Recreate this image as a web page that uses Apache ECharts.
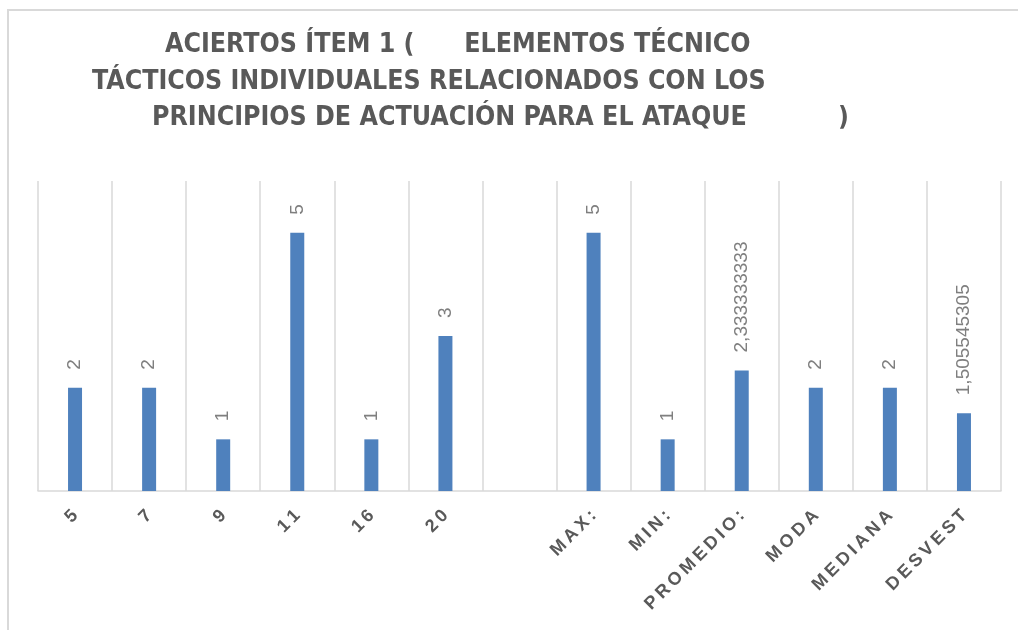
<!DOCTYPE html>
<html>
<head>
<meta charset="utf-8">
<title>Aciertos ítem 1</title>
<script src="https://cdn.jsdelivr.net/npm/echarts@6/dist/echarts.min.js"></script>
<style>
  html, body { margin: 0; padding: 0; background: #fff; }
  #chart_aciertos { width: 1018px; height: 630px; }
</style>
</head>
<body>
<div id="chart_aciertos"></div>
<script>
// categorías del eje x (la vacía separa los datos de los estadísticos)
const categorias = ['5', '7', '9', '11', '16', '20', '', 'MAX:', 'MIN:', 'PROMEDIO:', 'MODA', 'MEDIANA', 'DESVEST']
const aciertos = [2, 2, 1, 5, 1, 3, '-', 5, 1, 2.333333333, 2, 2, 1.505545305]
const tituloLineas = [
  'ACIERTOS ÍTEM 1 (      ELEMENTOS TÉCNICO',
  'TÁCTICOS INDIVIDUALES RELACIONADOS CON LOS',
  'PRINCIPIOS DE ACTUACIÓN PARA EL ATAQUE           )'
]

const myChart = echarts.init(document.getElementById('chart_aciertos'))

const tituloFuente = "'DejaVu Sans Condensed', 'Liberation Sans', sans-serif"
const tituloPos = [[165, 32], [92, 69], [152, 105]]

const option = {
  backgroundColor: '#fff',
  title: tituloLineas.map((t, i) => ({
    text: t,
    left: tituloPos[i][0],
    top: tituloPos[i][1],
    padding: 0,
    textStyle: {
      fontFamily: tituloFuente,
      fontSize: 26.5,
      fontWeight: 'bold',
      color: '#595959'
    }
  })),
  // marco del gráfico
  graphic: [
    {
      type: 'polyline',
      shape: { points: [[8, 630], [8, 10], [1018, 10]] },
      style: { stroke: '#d9d9d9', lineWidth: 2, fill: null },
      silent: true
    }
  ],
  grid: {
    left: 38,
    right: 17,
    top: 181,
    bottom: 139
  },
  xAxis: {
    type: 'category',
    data: categorias,
    axisLine: { lineStyle: { color: '#d9d9d9', width: 1.5 } },
    axisTick: { show: false },
    splitLine: { show: true, lineStyle: { color: '#d9d9d9', width: 1.5 } },
    axisLabel: {
      interval: 0,
      rotate: 45,
      margin: 22,
      fontFamily: "'Liberation Sans', Arial, sans-serif",
      fontSize: 18,
      fontWeight: 'bold',
      color: '#595959',
      // espaciado entre letras como en el original
      formatter: v => v.split('').join('\u2009')
    }
  },
  yAxis: {
    type: 'value',
    min: 0,
    max: 6,
    interval: 1,
    show: false,
    splitLine: { show: false }
  },
  series: [
    {
      type: 'bar',
      data: aciertos,
      barWidth: 14,
      itemStyle: { color: '#4f81bd' },
      label: {
        show: true,
        position: 'top',
        distance: 15,
        rotate: 90,
        align: 'left',
        verticalAlign: 'middle',
        offset: [3, 0],
        fontFamily: "'Liberation Sans', Arial, sans-serif",
        fontSize: 19,
        color: '#7f7f7f',
        formatter: p => String(p.value).replace('.', ',')
      }
    }
  ]
}

myChart.setOption(option)

window.addEventListener('resize', function() {
  myChart.resize()
})
</script>
</body>
</html>
